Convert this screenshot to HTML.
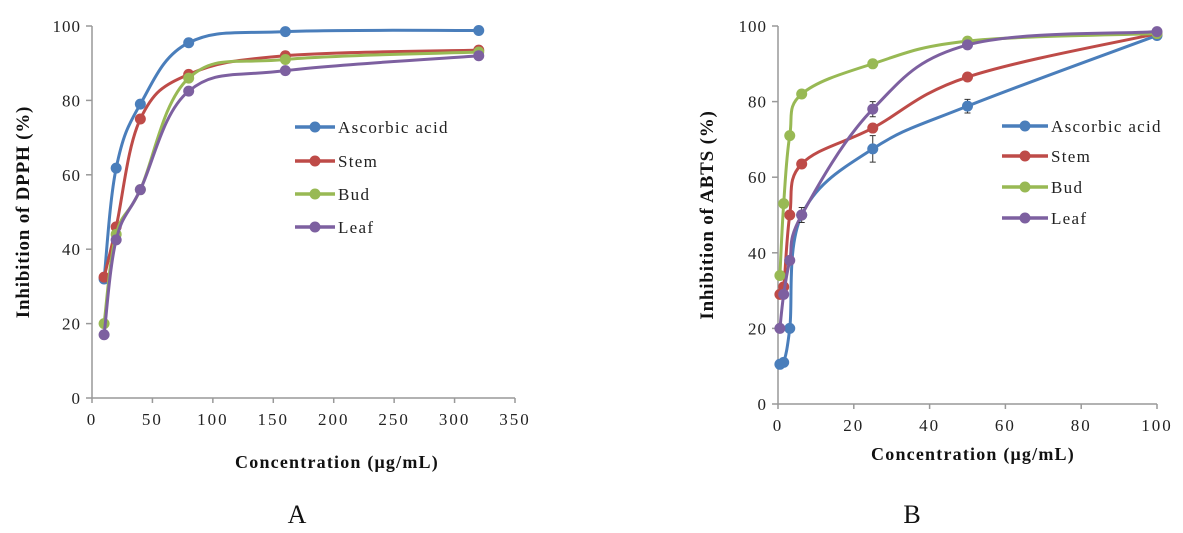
<!DOCTYPE html>
<html><head><meta charset="utf-8"><style>
body{margin:0;background:#fff}
svg{display:block;font-family:"Liberation Serif",serif}
</style></head><body>
<svg id="s" width="1183" height="533" viewBox="0 0 1183 533"></svg>
<script>
const seriesNames=["Ascorbic acid","Stem","Bud","Leaf"];
const colors=["#4a7ebb","#be4b48","#98b954","#7d60a0"];
const concA=[10,20,40,80,160,320];
const ascA=[32,61.8,79,95.5,98.5,98.8];
const stemA=[32.5,46,75,87,92,93.5];
const budA=[20,44,56,86,91,93];
const leafA=[17,42.5,56,82.5,88,92];
const xTicksA=[0,50,100,150,200,250,300,350];
const concB=[0.5,1.5,3.1,6.25,25,50,100];
const ascB=[10.5,11,20,50,67.5,78.8,97.5];
const stemB=[29,31,50,63.5,73,86.5,98];
const budB=[34,53,71,82,90,96,98];
const leafB=[20,29,38,50,78,95,98.5];
const errAscB=[0,0,0,0,3.5,1.8,0];
const errLeafB=[0,0,0,2,2,0,0];
const xTicksB=[0,20,40,60,80,100];
const yTicks=[0,20,40,60,80,100];
const NS="http://www.w3.org/2000/svg";
const svg=document.getElementById('s');
function mk(t,a,p){const e=document.createElementNS(NS,t);for(const k in a)e.setAttribute(k,a[k]);(p||svg).appendChild(e);return e;}
function smooth(pts){let d=`M${pts[0][0]},${pts[0][1]}`;for(let i=0;i<pts.length-1;i++){const p0=pts[i-1]||pts[i],p1=pts[i],p2=pts[i+1],p3=pts[i+2]||p2;const t=0.18;
d+=` C${p1[0]+(p2[0]-p0[0])*t},${p1[1]+(p2[1]-p0[1])*t} ${p2[0]-(p3[0]-p1[0])*t},${p2[1]-(p3[1]-p1[1])*t} ${p2[0]},${p2[1]}`;}return d;}
function chart(o){
 const g=mk('g',{});
 const X=v=>o.x0+(v-o.xmin)/(o.xmax-o.xmin)*(o.x1-o.x0);
 const Y=v=>o.y0-(v/100)*(o.y0-o.y1);
 const ax=mk('path',{d:`M${o.x0},${o.y1} V${o.y0} H${X(o.xmax)}`,stroke:'#999',fill:'none','stroke-width':1.5},g);
 
 yTicks.forEach(v=>{mk('line',{x1:o.x0-6,x2:o.x0,y1:Y(v),y2:Y(v),stroke:'#999','stroke-width':1.5},g);
  const t=mk('text',{x:o.x0-11,y:Y(v)+6,'text-anchor':'end','font-size':17,fill:'#222','letter-spacing':1},g);t.textContent=v;
  });
 o.xt.forEach(v=>{mk('line',{x1:X(v),x2:X(v),y1:o.y0,y2:o.y0+5,stroke:'#999','stroke-width':1.5},g);
  const t=mk('text',{x:X(v),y:o.y0+27,'text-anchor':'middle','font-size':17,fill:'#222','letter-spacing':2},g);t.textContent=v;
  });
 o.series.forEach((s,i)=>{const pts=o.xs.map((x,j)=>[X(x),Y(s[j])]);
  const p=mk('path',{d:smooth(pts),stroke:colors[i],'stroke-width':3,fill:'none'},g);
  
  const er=o.errs&&o.errs[i];
  pts.forEach((q,j)=>{if(er&&er[j]>0){const e=er[j];
    mk('path',{d:`M${q[0]},${Y(s[j]-e)}V${Y(s[j]+e)}M${q[0]-3},${Y(s[j]-e)}h6M${q[0]-3},${Y(s[j]+e)}h6`,stroke:'#333','stroke-width':1,fill:'none'},g);}
   const c=mk('circle',{cx:q[0],cy:q[1],r:5.5,fill:colors[i]},g);
   });
 });
 o.leg.rows.forEach((yy,i)=>{mk('line',{x1:o.leg.x,x2:o.leg.x+o.leg.w,y1:yy,y2:yy,stroke:colors[i],'stroke-width':3.5},g);
  mk('circle',{cx:o.leg.x+o.leg.w/2,cy:yy,r:5.5,fill:colors[i]},g);
  const t=mk('text',{x:o.leg.x+o.leg.w+3,y:yy+6,'font-size':17,fill:'#222','letter-spacing':1.3},g);t.textContent=seriesNames[i];
  });
 const xt=mk('text',{x:o.xtx,y:o.xty,'text-anchor':'middle','font-size':18,'font-weight':'bold',fill:'#111','letter-spacing':1.2},g);xt.textContent=o.xlabel;
 
 const yt=mk('text',{x:0,y:0,'text-anchor':'middle','font-size':19,'font-weight':'bold',fill:'#111','letter-spacing':0.8,transform:`translate(${o.ytx},${o.yty}) rotate(-90)`},g);yt.textContent=o.ylabel;
 
 const pl=mk('text',{x:o.plx,y:523,'text-anchor':'middle','font-size':26,fill:'#111'},g);pl.textContent=o.panel;
 
}
chart({name:'chart-a-dpph',x0:92,x1:515,xmin:0,xmax:350,y0:398,y1:26,xt:xTicksA,xs:concA,series:[ascA,stemA,budA,leafA],
 leg:{x:295,w:40,rows:[127,161,194,227]},xlabel:'Concentration  (μg/mL)',xtx:337,xty:468,ylabel:'Inhibition  of DPPH (%)',ytx:29,yty:212,panel:'A',plx:297});
chart({name:'chart-b-abts',x0:778,x1:1157,xmin:0,xmax:100,y0:404,y1:26,xt:xTicksB,xs:concB,series:[ascB,stemB,budB,leafB],errs:[errAscB,null,null,errLeafB],
 leg:{x:1002,w:46,rows:[126,156,187,218]},xlabel:'Concentration  (μg/mL)',xtx:973,xty:460,ylabel:'Inhibition of ABTS (%)',ytx:713,yty:215,panel:'B',plx:912});
</script>
</body></html>
